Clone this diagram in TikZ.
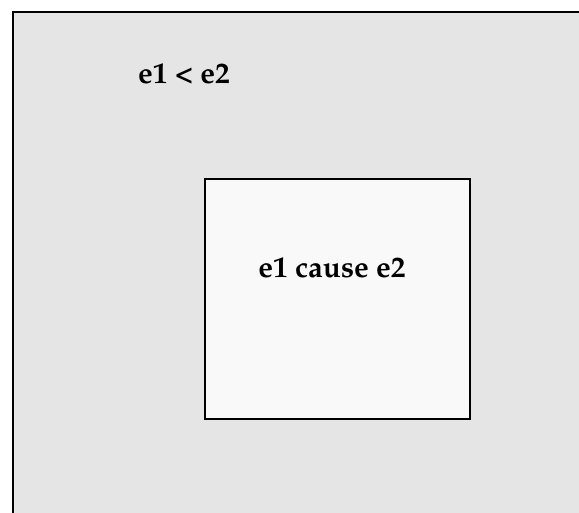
\documentclass[tikz,border=0pt]{standalone}
\usepackage[T1]{fontenc}
\usepackage{mathpazo}
\usepackage{xcolor}
\usepackage{tikz}
\usetikzlibrary{positioning}
\definecolor{outergray}{HTML}{E5E5E5}
\definecolor{innergray}{HTML}{F9F9F9}

\begin{document}
\begin{tikzpicture}[
  x=1pt,y=-1pt,
  font=\fontsize{29.5}{34}\selectfont\bfseries,
  region/.style={draw=black,line width=2.2pt,rectangle,inner sep=0pt},
  lbl/.style={inner sep=0pt}
]
\useasboundingbox (0,0) rectangle (579,512);
\node[region,fill=outergray,anchor=north west,minimum width=580pt,minimum height=512pt] (outer) at (12,11) {};
\node[region,fill=innergray,anchor=north west,minimum width=265pt,minimum height=240pt] (inner) at (204,178) {};
\node[lbl] (before) at (184,74) {e1 < e2};
\node[lbl] (cause) at (332,268) {e1 cause e2};
\end{tikzpicture}
\end{document}
